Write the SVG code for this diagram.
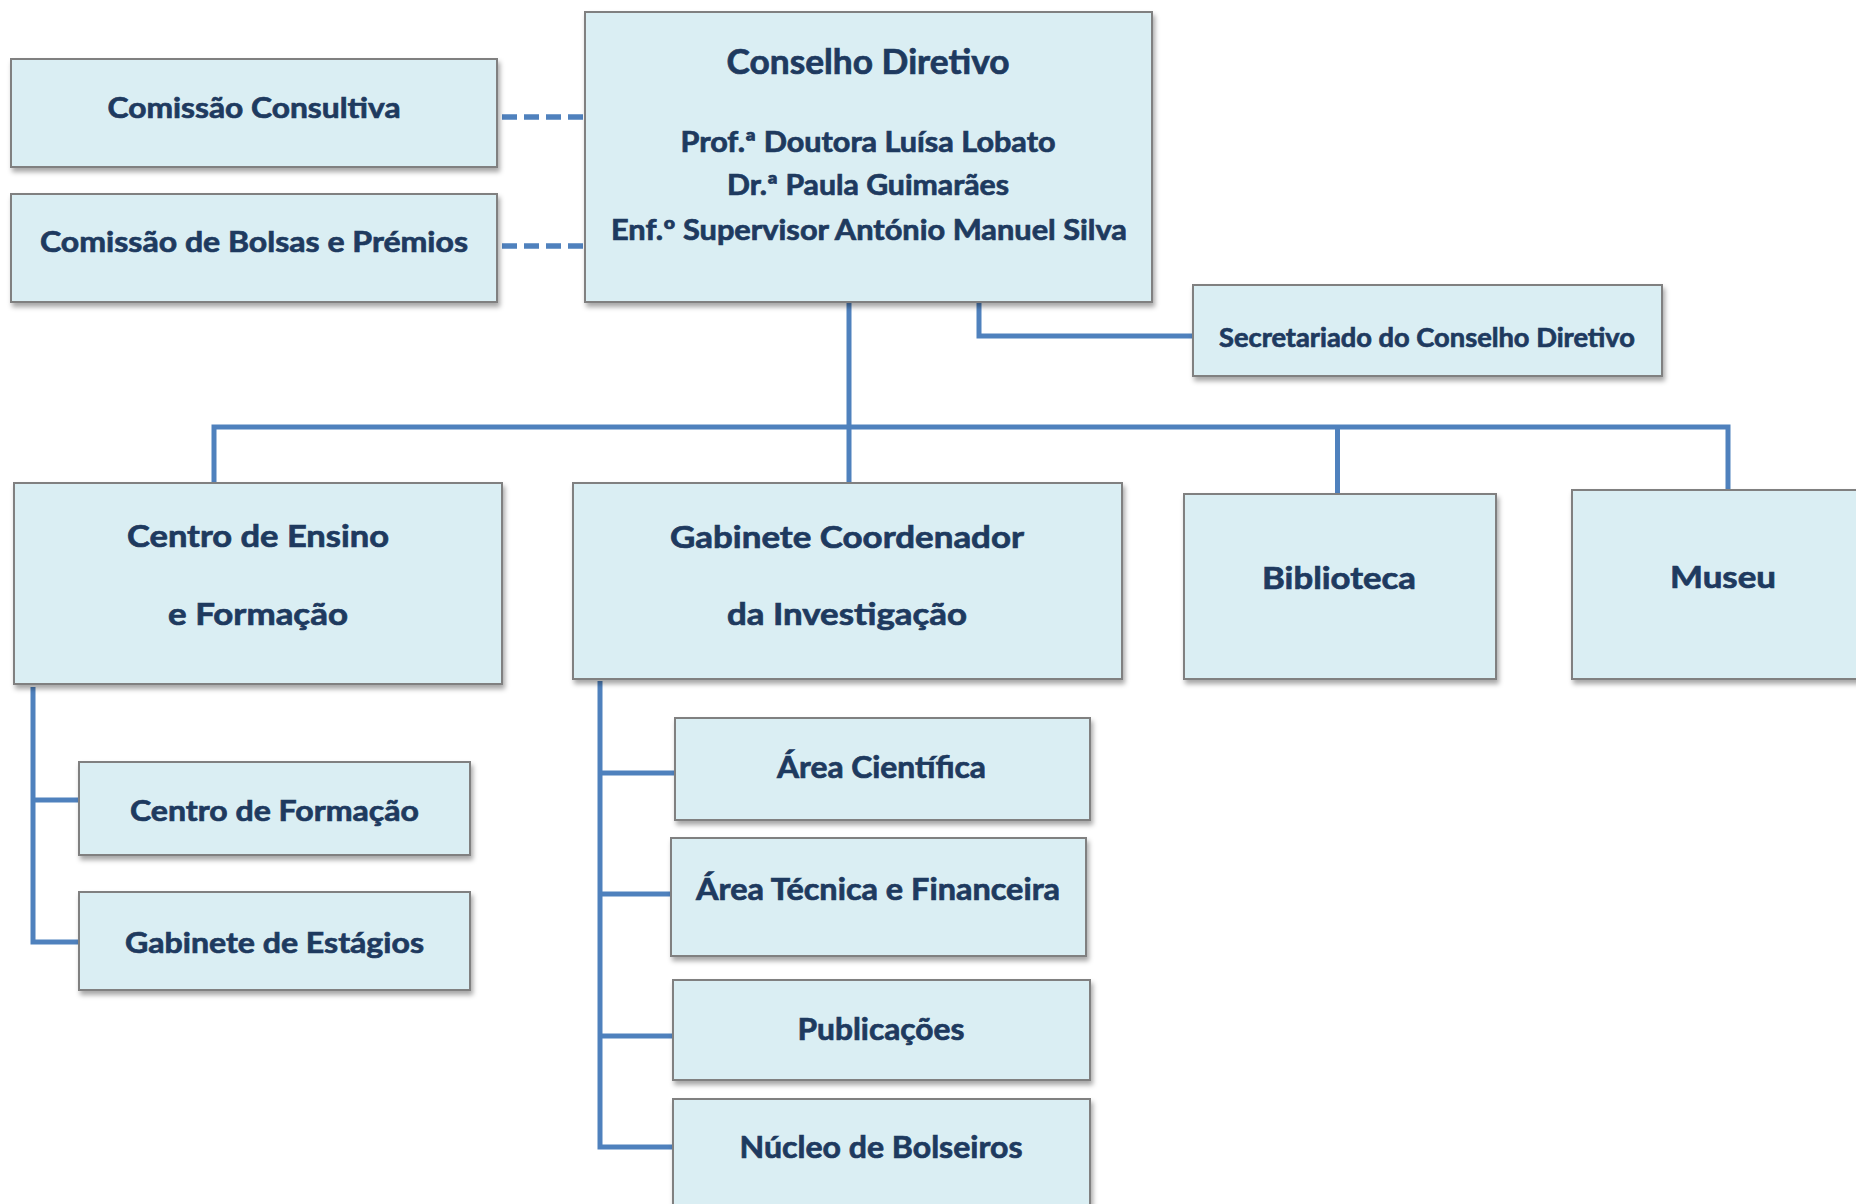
<svg xmlns="http://www.w3.org/2000/svg" width="1856" height="1204" viewBox="0 0 1856 1204">
<style>
.box{fill:#DAEEF3;stroke:#808080;stroke-width:2}
.t{font-family:Lato,"Open Sans","Liberation Sans",sans-serif;font-weight:bold;fill:#1E3A5F;stroke:#1E3A5F;stroke-width:0.7;text-anchor:middle}
.s34{font-size:34px}.s31{font-size:31px}.s30{font-size:30px}.s29{font-size:29px}.s28{font-size:28px}.s26{font-size:26px}
.ln{fill:none;stroke:#4F81BD;stroke-width:5}
.dash{stroke-width:5.5;stroke-dasharray:15 7}
</style>
<defs>
<filter id="sh" x="-5%" y="-5%" width="115%" height="125%">
<feDropShadow dx="2" dy="4" stdDeviation="2.5" flood-color="#000" flood-opacity="0.35"/>
</filter>
</defs>
<rect width="1856" height="1204" fill="#FFFFFF"/>
<g id="connectors">
<path class="ln dash" d="M502,117 H588"/>
<path class="ln dash" d="M502,246 H588"/>
<path class="ln" d="M979,300 V336 H1195"/>
<path class="ln" d="M849,300 V485"/>
<path class="ln" d="M214,485 V427 H1728 V492"/>
<path class="ln" d="M1337.5,427 V496"/>
<path class="ln" d="M33,687 V942 H81"/>
<path class="ln" d="M33,800 H81"/>
<path class="ln" d="M600,681 V1147 H675"/>
<path class="ln" d="M600,773 H677"/>
<path class="ln" d="M600,894 H673"/>
<path class="ln" d="M600,1036 H675"/>
</g>
<g id="comissao-consultiva">
<rect class="box" filter="url(#sh)" x="11" y="59" width="486" height="108"/>
<text class="t s29" x="254" y="118" textLength="293" lengthAdjust="spacingAndGlyphs">Comissão Consultiva</text>
</g>
<g id="comissao-bolsas">
<rect class="box" filter="url(#sh)" x="11" y="194" width="486" height="108"/>
<text class="t s29" x="254" y="252" textLength="428" lengthAdjust="spacingAndGlyphs">Comissão de Bolsas e Prémios</text>
</g>
<g id="conselho-diretivo">
<rect class="box" filter="url(#sh)" x="585" y="12" width="567" height="290"/>
<text class="t s34" x="868" y="74" textLength="283" lengthAdjust="spacingAndGlyphs">Conselho Diretivo</text>
<text class="t s28" x="868" y="152" textLength="375" lengthAdjust="spacingAndGlyphs">Prof.ª Doutora Luísa Lobato</text>
<text class="t s28" x="868" y="195" textLength="282" lengthAdjust="spacingAndGlyphs">Dr.ª Paula Guimarães</text>
<text class="t s28" x="869" y="240" textLength="516" lengthAdjust="spacingAndGlyphs">Enf.º Supervisor António Manuel Silva</text>
</g>
<g id="secretariado">
<rect class="box" filter="url(#sh)" x="1193" y="285" width="469" height="91"/>
<text class="t s26" x="1427" y="347" textLength="416" lengthAdjust="spacingAndGlyphs">Secretariado do Conselho Diretivo</text>
</g>
<g id="centro-ensino">
<rect class="box" filter="url(#sh)" x="14" y="483" width="488" height="201"/>
<text class="t s31" x="258" y="547" textLength="262" lengthAdjust="spacingAndGlyphs">Centro de Ensino</text>
<text class="t s31" x="258" y="625" textLength="180" lengthAdjust="spacingAndGlyphs">e Formação</text>
</g>
<g id="gabinete-investigacao">
<rect class="box" filter="url(#sh)" x="573" y="483" width="549" height="196"/>
<text class="t s31" x="847" y="548" textLength="354" lengthAdjust="spacingAndGlyphs">Gabinete Coordenador</text>
<text class="t s31" x="847" y="625" textLength="240" lengthAdjust="spacingAndGlyphs">da Investigação</text>
</g>
<g id="biblioteca">
<rect class="box" filter="url(#sh)" x="1184" y="494" width="312" height="185"/>
<text class="t s31" x="1339" y="589" textLength="154" lengthAdjust="spacingAndGlyphs">Biblioteca</text>
</g>
<g id="museu">
<rect class="box" filter="url(#sh)" x="1572" y="490" width="302" height="189"/>
<text class="t s31" x="1723" y="588" textLength="106" lengthAdjust="spacingAndGlyphs">Museu</text>
</g>
<g id="centro-formacao">
<rect class="box" filter="url(#sh)" x="79" y="762" width="391" height="93"/>
<text class="t s29" x="274.5" y="821" textLength="289" lengthAdjust="spacingAndGlyphs">Centro de Formação</text>
</g>
<g id="gabinete-estagios">
<rect class="box" filter="url(#sh)" x="79" y="892" width="391" height="98"/>
<text class="t s29" x="274.5" y="953" textLength="299" lengthAdjust="spacingAndGlyphs">Gabinete de Estágios</text>
</g>
<g id="area-cientifica">
<rect class="box" filter="url(#sh)" x="675" y="718" width="415" height="102"/>
<text class="t s30" x="881.5" y="778" textLength="209" lengthAdjust="spacingAndGlyphs">Área Científica</text>
</g>
<g id="area-tecnica">
<rect class="box" filter="url(#sh)" x="671" y="838" width="415" height="118"/>
<text class="t s30" x="878" y="900" textLength="364" lengthAdjust="spacingAndGlyphs">Área Técnica e Financeira</text>
</g>
<g id="publicacoes">
<rect class="box" filter="url(#sh)" x="673" y="980" width="417" height="100"/>
<text class="t s30" x="881" y="1040" textLength="167" lengthAdjust="spacingAndGlyphs">Publicações</text>
</g>
<g id="nucleo-bolseiros">
<rect class="box" filter="url(#sh)" x="673" y="1099" width="417" height="130"/>
<text class="t s30" x="881" y="1158" textLength="283" lengthAdjust="spacingAndGlyphs">Núcleo de Bolseiros</text>
</g>
</svg>
